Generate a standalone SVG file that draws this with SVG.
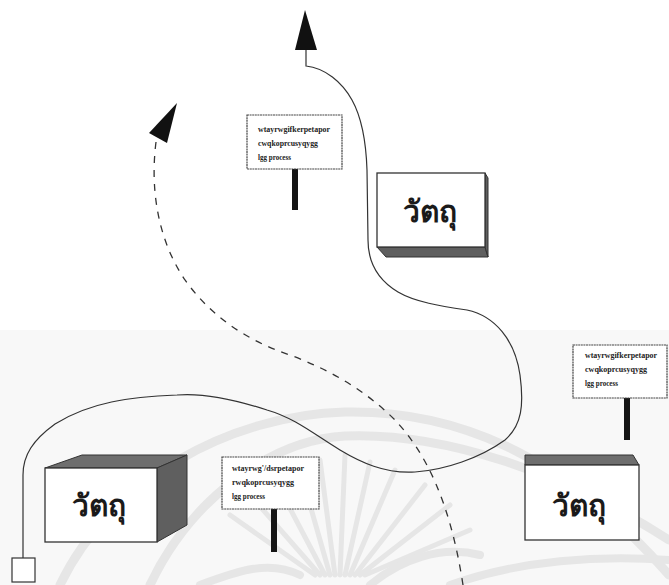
<svg xmlns="http://www.w3.org/2000/svg" width="669" height="585" viewBox="0 0 669 585">
<defs>
<style>
.face{fill:#fff;stroke:#333;stroke-width:1.3}
.shade{fill:#5f5f5f;stroke:#333;stroke-width:1}
.shade2{fill:#6e6e6e;stroke:#333;stroke-width:1}
.label{font-family:"Noto Sans","DejaVu Sans",sans-serif;font-weight:bold;font-size:30px;fill:#1a1a1a;text-anchor:middle}
.board{fill:#fff;stroke:#444;stroke-width:1.2;stroke-dasharray:2 0.6}
.post{fill:#151515}
.tiny{font-family:"Liberation Serif",serif;font-weight:bold;font-size:7.5px;fill:#222}
.wm{fill:none;stroke:#e6e6e6;stroke-linecap:round}
.line{fill:none;stroke:#333;stroke-width:1.2}
.dash{fill:none;stroke:#333;stroke-width:1.3;stroke-dasharray:7 7}
.head{fill:#111}
</style>
</defs>
<rect x="0" y="0" width="669" height="585" fill="#fff"/>
<rect x="0" y="330" width="669" height="255" fill="#f8f8f8"/>
<g id="watermark">
<path class="wm" stroke-width="9" d="M60,585 C110,480 230,415 345,412 C450,410 560,450 669,575"/>
<path class="wm" stroke-width="9" d="M150,585 C190,500 270,440 345,436 C440,432 560,470 669,540"/>
<path class="wm" stroke-width="5" d="M330,575 L300,470 M335,575 L320,460 M340,575 L345,455 M345,575 L370,462 M350,575 L395,470 M355,575 L425,485 M360,575 L450,505 M365,575 L470,530 M325,575 L275,480 M320,575 L250,495 M315,575 L230,515"/>
<path class="wm" stroke-width="8" d="M370,585 C400,560 440,545 480,555 M450,585 C520,560 600,555 669,560 M200,585 C240,570 270,560 300,575"/>
</g>
<g id="connectors">
<path class="line" d="M306,50 L306,66 C325,68 342,82 352,100 C362,118 366,140 367,170 L368,240 C368,262 378,280 398,292 C415,302 440,306 467,310 C495,316 515,340 520,375 C524,405 522,425 505,440 C480,458 445,470 415,472 C385,474 360,462 340,450 C315,435 295,418 267,410 C230,398 200,393 177,395 C130,397 90,402 55,424 C33,440 23,455 23,475 L23,558"/>
<polygon class="head" points="305,10 295,50 317,50"/>
<path class="dash" d="M156,142 C150,190 158,240 185,280 C210,315 245,340 290,355 C330,370 365,390 395,420 C425,452 450,500 463,585"/>
<polygon class="head" points="177,103 149,133 167,143"/>
</g>
<g id="start">
<rect x="12" y="558" width="23" height="24" fill="#fff" stroke="#333" stroke-width="1.2"/>
</g>
<g id="object-top">
<polygon class="shade" points="377,247 485,247 488,257 386,257"/>
<polygon class="shade" points="485,173 488,178 488,257 485,247"/>
<rect class="face" x="377" y="173" width="108" height="74"/>
<text class="label" x="430" y="222">วัตถุ</text>
</g>
<g id="object-left">
<polygon class="shade2" points="45,468 82,455 187,455 157,468"/>
<polygon class="shade" points="157,468 187,455 187,525 157,542"/>
<rect class="face" x="45" y="468" width="112" height="74"/>
<text class="label" x="99" y="516">วัตถุ</text>
</g>
<g id="object-right">
<polygon class="shade2" points="525,455 633,455 639,465 525,465"/>
<rect class="face" x="525" y="465" width="114" height="75"/>
<text class="label" x="579" y="516">วัตถุ</text>
</g>
<g id="sign-top">
<rect class="post" x="292" y="169" width="6" height="41"/>
<rect class="board" x="247" y="115" width="95" height="54"/>
<text class="tiny" x="258" y="132" textLength="72" lengthAdjust="spacingAndGlyphs">wtayrwgifkerpetapor</text>
<text class="tiny" x="258" y="146" textLength="60" lengthAdjust="spacingAndGlyphs">cwqkoprcusyqygg</text>
<text class="tiny" x="258" y="160" textLength="33" lengthAdjust="spacingAndGlyphs">lgg process</text>
</g>
<g id="sign-right">
<rect class="post" x="624" y="398" width="6" height="42"/>
<rect class="board" x="573" y="345" width="94" height="53"/>
<text class="tiny" x="585" y="358" textLength="72" lengthAdjust="spacingAndGlyphs">wtayrwgifkerpetapor</text>
<text class="tiny" x="585" y="372" textLength="62" lengthAdjust="spacingAndGlyphs">cwqkoprcusyqygg</text>
<text class="tiny" x="585" y="386" textLength="33" lengthAdjust="spacingAndGlyphs">lgg process</text>
</g>
<g id="sign-bottom">
<rect class="post" x="271" y="509" width="6" height="43"/>
<rect class="board" x="222" y="457" width="97" height="52"/>
<text class="tiny" x="232" y="471" textLength="72" lengthAdjust="spacingAndGlyphs">wtayrwg'/dsrpetapor</text>
<text class="tiny" x="232" y="485" textLength="62" lengthAdjust="spacingAndGlyphs">rwqkoprcusyqygg</text>
<text class="tiny" x="232" y="499" textLength="33" lengthAdjust="spacingAndGlyphs">lgg process</text>
</g>
</svg>
